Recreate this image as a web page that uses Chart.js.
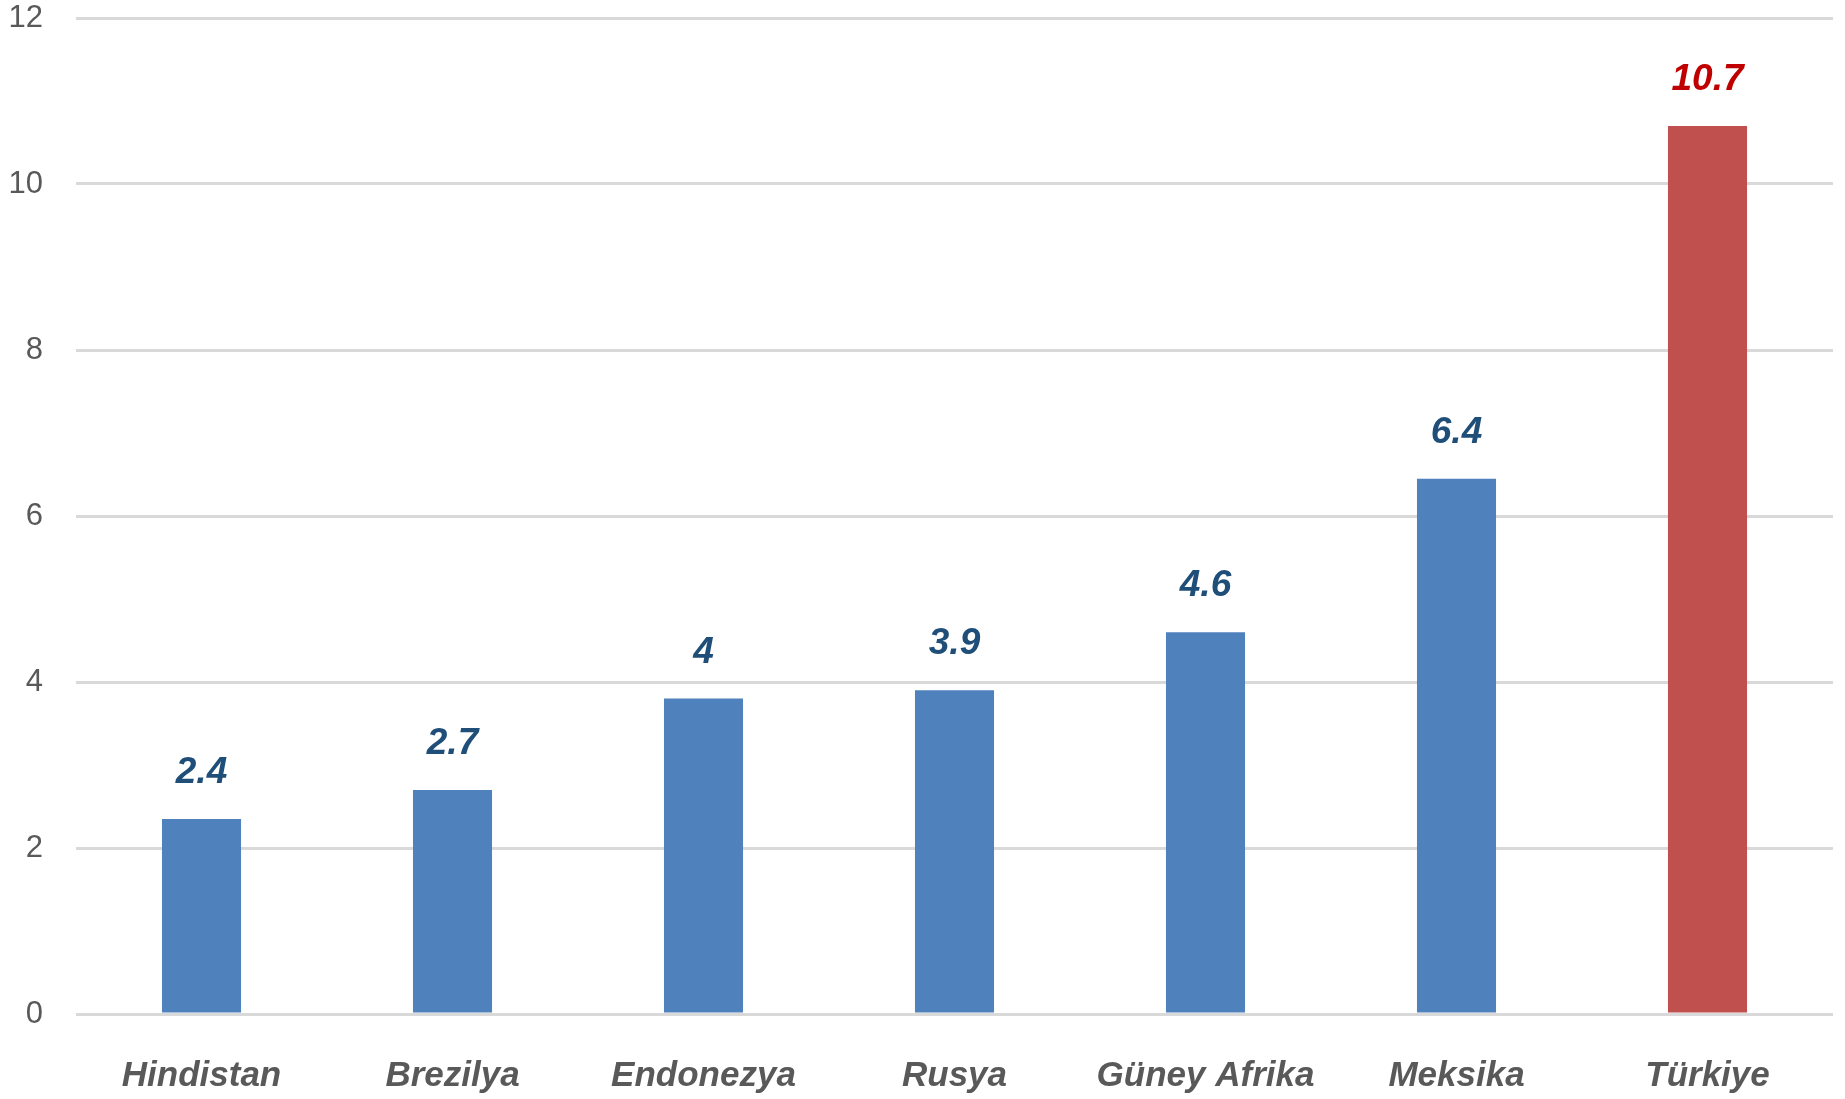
<!DOCTYPE html>
<html>
<head>
<meta charset="utf-8">
<script src="https://cdn.jsdelivr.net/npm/chart.js@4"></script>
<style>
html,body{margin:0;padding:0;background:#fff;}
#wrap{width:1845px;height:1099px;}
</style>
</head>
<body>
<div id="wrap"><canvas id="c" width="1845" height="1099"></canvas></div>
<script>
const categories = ["Hindistan", "Brezilya", "Endonezya", "Rusya", "Güney Afrika", "Meksika", "Türkiye"];
const values = [2.35, 2.7, 3.8, 3.9, 4.6, 6.45, 10.7];
const valueLabels = ["2.4", "2.7", "4", "3.9", "4.6", "6.4", "10.7"];
const yTicks = [0, 2, 4, 6, 8, 10, 12];

const barColors = categories.map((c, i) => i === categories.length - 1 ? "#C0504D" : "#4F81BD");
const labelColors = categories.map((c, i) => i === categories.length - 1 ? "#C00000" : "#1F4E79");

const valueLabelPlugin = {
  id: "valueLabels",
  afterDatasetsDraw(chart) {
    const ctx = chart.ctx;
    const meta = chart.getDatasetMeta(0);
    ctx.save();
    ctx.font = "italic bold 37px 'Liberation Sans', Arial, sans-serif";
    ctx.textAlign = "center";
    ctx.textBaseline = "alphabetic";
    meta.data.forEach((bar, i) => {
      ctx.fillStyle = labelColors[i];
      ctx.fillText(valueLabels[i], bar.x, bar.y - 36);
    });
    ctx.restore();
  }
};

new Chart(document.getElementById("c"), {
  type: "bar",
  data: {
    labels: categories,
    datasets: [{
      data: values,
      backgroundColor: barColors,
      borderWidth: 0,
      barPercentage: 0.315,
      categoryPercentage: 1.0
    }]
  },
  options: {
    responsive: false,
    animation: false,
    devicePixelRatio: 1,
    layout: { padding: { top: 18, right: 12, bottom: 0, left: 0 } },
    plugins: { legend: { display: false }, tooltip: { enabled: false } },
    scales: {
      x: {
        grid: { display: false, drawTicks: false },
        border: { display: false },
        ticks: {
          autoSkip: false,
          maxRotation: 0,
          padding: 41,
          color: "#595959",
          font: { family: "'Liberation Sans', Arial, sans-serif", size: 35, style: "italic", weight: "bold" }
        },
        afterFit(scale) { scale.height = 85; scale.paddingLeft = 0; scale.paddingRight = 0; }
      },
      y: {
        min: 0,
        max: 12,
        afterBuildTicks(scale) { scale.ticks = yTicks.map(v => ({ value: v })); },
        grid: { color: "#D9D9D9", lineWidth: 3, drawTicks: false },
        border: { display: false },
        ticks: {
          padding: 33,
          color: "#595959",
          font: { family: "'Liberation Sans', Arial, sans-serif", size: 31 }
        },
        afterFit(scale) { scale.width = 76; scale.paddingTop = 0; scale.paddingBottom = 0; }
      }
    }
  },
  plugins: [valueLabelPlugin]
});
</script>
</body>
</html>
